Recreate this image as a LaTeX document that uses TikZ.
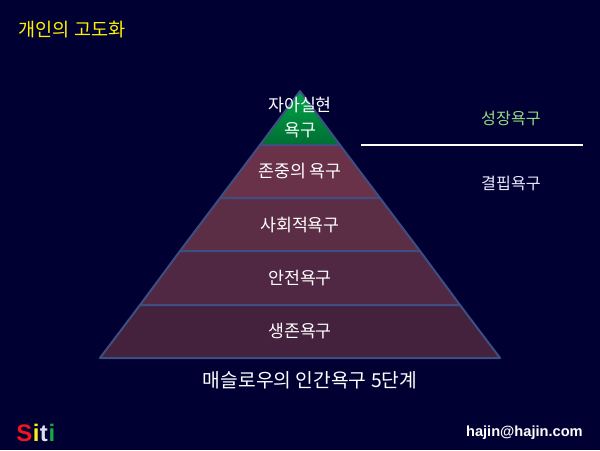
\documentclass[tikz,border=0pt]{standalone}
\usepackage{fontspec}
\setmainfont{Noto Sans CJK KR}
\newfontfamily\latinfont{Liberation Sans}
\usepackage{xcolor}
\usepackage{tikz}
\definecolor{backcol}{RGB}{0,0,51}
\definecolor{edgecol}{RGB}{62,78,130}
\definecolor{needcol}{RGB}{146,220,130}
\definecolor{lackcol}{RGB}{236,232,255}
\definecolor{peakA}{RGB}{0,165,75}
\definecolor{peakB}{RGB}{0,110,50}
\definecolor{bandA}{RGB}{105,50,72}
\definecolor{bandB}{RGB}{92,46,70}
\definecolor{bandC}{RGB}{80,40,68}
\definecolor{bandD}{RGB}{68,34,62}
\definecolor{siteR}{RGB}{240,20,30}
\definecolor{siteY}{RGB}{250,240,20}
\definecolor{siteW}{RGB}{222,222,238}
\definecolor{siteG}{RGB}{20,170,70}
\tikzset{
  label/.style={text=white,font=\fontsize{12.3pt}{14pt}\selectfont,inner sep=0pt},
  sidelabel/.style={inner sep=0pt,font=\fontsize{11.5pt}{14pt}\selectfont},
  band/.style={draw=edgecol,line width=.05cm,line join=round},
  siteletter/.style={font=\latinfont\bfseries\fontsize{17pt}{17pt}\selectfont,inner sep=0pt,anchor=base west}
}
\begin{document}
\begin{tikzpicture}[x=.025cm,y=-.025cm]
	\useasboundingbox (0,0) rectangle (600,450);
	\fill[backcol] (0,0) rectangle (600,450);
	% top of the pyramid
	\draw[band,top color=peakA,bottom color=peakB] (300,91) -- (340,145) -- (260,145) -- cycle;
	% lower levels
	\foreach \ya/\xa/\yb/\xb/\c in {145/40/198/80/bandA,198/80/251/120/bandB,251/120/305/160/bandC,305/160/358/200/bandD}
	  \filldraw[band,fill=\c] (300-\xa,\ya) -- (300+\xa,\ya) -- (300+\xb,\yb) -- (300-\xb,\yb) -- cycle;
	\node[label] (top1) at (300,105) {자아실현};
	\node[label] (top2) at (300,130) {욕구};
	\node[label] (esteem) at (300,171) {존중의 욕구};
	\node[label] (social) at (300,225) {사회적욕구};
	\node[label] (safety) at (300,278) {안전욕구};
	\node[label] (survive) at (300,331) {생존욕구};
	\node[label,font=\fontsize{13.7pt}{16pt}\selectfont] (caption) at (310,380) {매슬로우의 인간욕구 5단계};
	\node[label,text=yellow,font=\fontsize{13.2pt}{16pt}\selectfont] (title) at (72,30) {개인의 고도화};
	\node[sidelabel,text=needcol] (growth) at (511,118) {성장욕구};
	\node[sidelabel,text=lackcol] (lack) at (511,183) {결핍욕구};
	\coordinate (split1) at (361,145);
	\coordinate (split2) at (583,145);
	\draw[white,line width=.05cm] (split1) -- (split2);
	\node[label,anchor=east,font=\latinfont\bfseries\fontsize{10.4pt}{13pt}\selectfont] (mail) at (583,433) {hajin@hajin.com};
	\node[siteletter,text=siteR] (s1) at (16,441) {S};
	\node[siteletter,text=siteY] (s2) at (s1.base east) {i};
	\node[siteletter,text=siteW] (s3) at (s2.base east) {t};
	\node[siteletter,text=siteG] (s4) at (s3.base east) {i};
\end{tikzpicture}
\end{document}
